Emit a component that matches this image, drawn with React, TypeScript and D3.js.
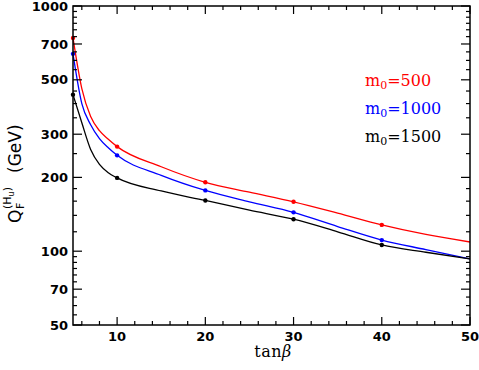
import React from 'react';
import { scaleLinear, scaleLog, line, curveMonotoneX } from 'd3';

// values
const tanBeta = [5, 6, 7, 8, 9, 10, 15, 20, 25, 30, 35, 40, 45, 50];
const m500 = [741, 460, 354, 310, 286, 267, 221, 191, 174, 159, 143, 128, 117, 109];
const m1000 = [638, 400, 328, 288, 264, 246, 204, 177, 159, 144, 126, 111, 101.5, 93];
const m1500 = [435, 334, 260, 226, 209, 199, 176, 161, 147, 135, 120, 106, 99, 93];
const markerX = [5, 10, 20, 30, 40];

const xMajor = [10, 20, 30, 40, 50];
const xMinor = [6, 8, 12, 14, 16, 18, 22, 24, 26, 28, 32, 34, 36, 38, 42, 44, 46, 48];
const yMajor = [50, 70, 100, 200, 300, 500, 700, 1000];
const yMinor = [55, 60, 65, 75, 80, 85, 90, 95, 120, 140, 160, 180, 250, 350, 400, 450, 550, 600, 650, 750, 800, 850, 900, 950];

const series = [
  { name: '500', values: m500, color: '#ff0000' },
  { name: '1000', values: m1000, color: '#0000ff' },
  { name: '1500', values: m1500, color: '#000000' },
];

const W = 479;
const H = 370;
const left = 73, right = 470, top = 6, bottom = 325;

export default function App() {
  const x = scaleLinear().domain([5, 50]).range([left, right]);
  const y = scaleLog().domain([50, 1000]).range([bottom, top]);

  const path = (vals: number[]) =>
    line<number>()
      .x((d, i) => x(tanBeta[i]))
      .y((d) => y(d))
      .curve(curveMonotoneX)(vals) as string;

  const tickFont = { fontFamily: 'DejaVu Sans', fontWeight: 'bold', fontSize: 13 } as const;

  return (
    <div style={{ position: 'absolute', left: 0, top: 0 }}>
      <svg width={W} height={H} style={{ display: 'block', background: '#fff' }}>
        {/* curves */}
        {series.map((s) => (
          <g key={s.name}>
            <path d={path(s.values)} fill="none" stroke={s.color} strokeWidth={1.3} />
            {markerX.map((mx) => {
              const i = tanBeta.indexOf(mx);
              return <circle key={mx} cx={x(mx)} cy={y(s.values[i])} r={2.2} fill={s.color} />;
            })}
          </g>
        ))}

        {/* frame */}
        <rect x={left} y={top} width={right - left} height={bottom - top} fill="none" stroke="#000" strokeWidth={1.5} />

        {/* x ticks */}
        {xMajor.map((t) => (
          <g key={'xM' + t}>
            <line x1={x(t)} x2={x(t)} y1={bottom} y2={bottom - 8} stroke="#000" strokeWidth={1.2} />
            <line x1={x(t)} x2={x(t)} y1={top} y2={top + 8} stroke="#000" strokeWidth={1.2} />
            <text x={x(t)} y={341} textAnchor="middle" {...tickFont}>{t}</text>
          </g>
        ))}
        {xMinor.map((t) => (
          <g key={'xm' + t}>
            <line x1={x(t)} x2={x(t)} y1={bottom} y2={bottom - 4} stroke="#000" strokeWidth={1.2} />
            <line x1={x(t)} x2={x(t)} y1={top} y2={top + 4} stroke="#000" strokeWidth={1.2} />
          </g>
        ))}

        {/* y ticks */}
        {yMajor.map((t) => (
          <g key={'yM' + t}>
            <line x1={left} x2={left + 9} y1={y(t)} y2={y(t)} stroke="#000" strokeWidth={1.2} />
            <line x1={right} x2={right - 9} y1={y(t)} y2={y(t)} stroke="#000" strokeWidth={1.2} />
            <text x={68} y={y(t)} dy="0.36em" textAnchor="end" {...tickFont}>{t}</text>
          </g>
        ))}
        {yMinor.map((t) => (
          <g key={'ym' + t}>
            <line x1={left} x2={left + 4} y1={y(t)} y2={y(t)} stroke="#000" strokeWidth={1.2} />
            <line x1={right} x2={right - 4} y1={y(t)} y2={y(t)} stroke="#000" strokeWidth={1.2} />
          </g>
        ))}

        {/* x label */}
        <text x={273} y={357} textAnchor="middle" fontFamily="DejaVu Serif" fontSize={16} letterSpacing={0.5}>
          tan<tspan fontStyle="italic">β</tspan>
        </text>

        {/* y label */}
        <g transform="translate(21,223) rotate(-90)" fontFamily="DejaVu Sans" fontSize={17}>
          <text x={0} y={0}>Q</text>
          <text x={14} y={3} fontSize={11}>F</text>
          <text x={14} y={-10} fontSize={11}>
            (H<tspan fontSize={8} dy={3}>u</tspan><tspan dy={-3}>)</tspan>
          </text>
          <text x={50} y={0}>(GeV)</text>
        </g>

        {/* legend */}
        {series.map((s, i) => (
          <text key={'lg' + s.name} x={365} y={86 + i * 28} fill={s.color} fontFamily="DejaVu Serif" fontSize={16}>
            m<tspan fontSize={11} dy={3}>0</tspan><tspan dy={-3}>={s.name}</tspan>
          </text>
        ))}
      </svg>
    </div>
  );
}
